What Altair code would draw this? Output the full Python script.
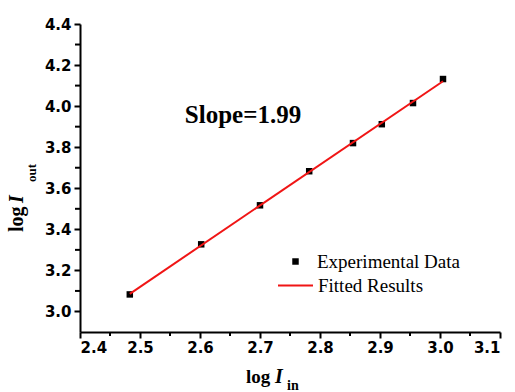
import altair as alt
import pandas as pd

# Data
log_in = [2.483, 2.602, 2.700, 2.782, 2.855, 2.903, 2.955, 3.005]
log_out = [3.083, 3.327, 3.517, 3.683, 3.820, 3.912, 4.015, 4.132]

x_major = [2.4, 2.5, 2.6, 2.7, 2.8, 2.9, 3.0, 3.1]
x_minor = [2.45, 2.55, 2.65, 2.75, 2.85, 2.95, 3.05]
y_major = [3.0, 3.2, 3.4, 3.6, 3.8, 4.0, 4.2, 4.4]
y_minor = [3.1, 3.3, 3.5, 3.7, 3.9, 4.1, 4.3]

series_names = ["Experimental Data", "Fitted Results"]
slope_label = "Slope=1.99"

df = pd.DataFrame({"log_in": log_in, "log_out": log_out})

W, H = 420, 308
xs = alt.Scale(domain=[2.4, 3.1], nice=False, zero=False)
ys = alt.Scale(domain=[2.9, 4.4], nice=False, zero=False)

TICKFONT = "DejaVu Sans"
SERIF = "Liberation Serif"

x_axis = alt.Axis(values=x_major, format=".1f", orient="bottom", title=None,
                  grid=False, domainColor="black", domainWidth=2, tickColor="black",
                  tickWidth=2, tickSize=6, labelFont=TICKFONT, labelFontWeight="bold",
                  labelFontSize=15, labelColor="black", labelPadding=2)
y_axis = alt.Axis(values=y_major, format=".1f", orient="left", title=None,
                  grid=False, domainColor="black", domainWidth=2, tickColor="black",
                  tickWidth=2, tickSize=6, labelFont=TICKFONT, labelFontWeight="bold",
                  labelFontSize=15, labelColor="black", labelPadding=3)

points = alt.Chart(df).transform_calculate(s1="'Experimental Data'").mark_square(
    size=42, opacity=1, filled=True
).encode(
    x=alt.X("log_in:Q", scale=xs, axis=x_axis),
    y=alt.Y("log_out:Q", scale=ys, axis=y_axis),
    fill=alt.Fill("s1:N", scale=alt.Scale(domain=[series_names[0]], range=["black"]),
                  legend=alt.Legend(title=None, orient="none", legendX=206, legendY=228,
                                    symbolType="square", symbolSize=42, symbolStrokeWidth=0,
                                    labelFont=SERIF, labelFontSize=19, labelColor="black",
                                    labelOffset=12, padding=0)),
)

fit = alt.Chart(df).transform_regression("log_in", "log_out").transform_calculate(
    s2="'Fitted Results'"
).mark_line(strokeWidth=2).encode(
    x=alt.X("log_in:Q", scale=xs, axis=x_axis),
    y=alt.Y("log_out:Q", scale=ys, axis=y_axis),
    stroke=alt.Stroke("s2:N", scale=alt.Scale(domain=[series_names[1]], range=["#f01515"]),
                      legend=alt.Legend(title=None, orient="none", legendX=197, legendY=243,
                                        symbolType="stroke", symbolSize=1225,
                                        symbolStrokeWidth=2, labelFont=SERIF,
                                        labelFontSize=19, labelColor="black",
                                        labelOffset=4, padding=0)),
)

# minor ticks, placed through the shared scales
minor_x = alt.Chart(pd.DataFrame({"v": x_minor})).mark_rule(
    color="black", strokeWidth=2
).encode(x=alt.X("v:Q", scale=xs, axis=x_axis), y=alt.value(H), y2=alt.value(H + 4))
minor_y = alt.Chart(pd.DataFrame({"v": y_minor})).mark_rule(
    color="black", strokeWidth=2
).encode(y=alt.Y("v:Q", scale=ys, axis=y_axis), x=alt.value(-5), x2=alt.value(0))

def label(txt, x, y, size, weight="bold", style="normal", angle=0):
    return alt.Chart(pd.DataFrame({"t": [txt]})).mark_text(
        font=SERIF, fontSize=size, fontWeight=weight, fontStyle=style,
        align="left", baseline="alphabetic", angle=angle, color="black"
    ).encode(x=alt.value(x), y=alt.value(y), text="t:N")

slope = alt.Chart(pd.DataFrame({"t": [slope_label]})).mark_text(
    font=SERIF, fontSize=25, fontWeight="bold", align="center",
    baseline="alphabetic", color="black"
).encode(x=alt.value(163), y=alt.value(99), text="t:N")

# x title: log I_in
xt1 = label("log", 166, 359, 19)
xt2 = label("I", 195, 359, 20, style="italic")
xt3 = label("in", 207, 366, 14)
# y title: log I_out (rotated)
yt1 = label("log", -57, 208, 20, angle=270)
yt2 = label("I", -57, 179, 20, style="italic", angle=270)
yt3 = label("out", -44, 158, 13, angle=270)

chart = alt.layer(points, fit, minor_x, minor_y, slope, xt1, xt2, xt3, yt1, yt2, yt3
).resolve_legend(fill="independent", stroke="independent").properties(
    width=W, height=H,
    autosize=alt.AutoSizeParams(type="none"),
    padding={"left": 80, "top": 24, "right": 15, "bottom": 60},
    background="white",
).configure_view(stroke=None)

chart.save("out.html", embed_options={"renderer": "svg", "actions": False})
